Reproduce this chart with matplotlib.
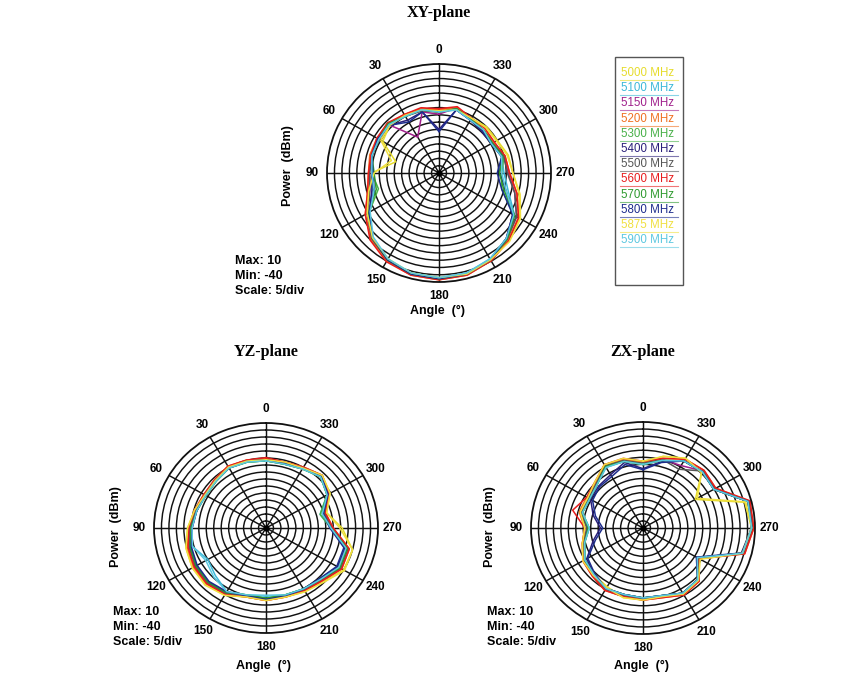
import numpy as np
import matplotlib
matplotlib.use("Agg")
import matplotlib.pyplot as plt

# ---------------- data ----------------
angles_deg = [0, 15, 30, 45, 60, 75, 90, 105, 120, 135, 150, 165,
              180, 195, 210, 225, 240, 255, 270, 285, 300, 315, 330, 345]

freqs = ["5000 MHz", "5100 MHz", "5150 MHz", "5200 MHz", "5300 MHz", "5400 MHz",
         "5500 MHz", "5600 MHz", "5700 MHz", "5800 MHz", "5875 MHz", "5900 MHz"]
colors = ["#e6dc2c", "#3cb8d8", "#a0208c", "#f07020", "#48b048", "#2a1f7a",
          "#555555", "#e81c1c", "#2e9a2e", "#1c2c8c", "#f0e040", "#5cc8e0"]

xy_5000 = [-11, -10, -9, -9, -11, -20, -10, -7, -3, 2, 5.5, 8, 8.5, 8, 6, 4, 1.5, -3, -7, -8, -10, -10, -11, -10]
xy_5100 = [-12, -10, -10, -8, -9, -9, -10, -9, -4, 2, 6, 7.5, 8, 7.5, 5.5, 2.5, -1, -8, -11, -11, -13, -12, -12, -10]
xy_5150 = [-13, -11, -21, -9, -9, -9, -9, -8, -3, 2.5, 6, 8, 8.5, 8, 6, 3, 0, -5, -9, -10, -12, -12, -12, -9]
xy_5200 = [-11, -9.5, -9, -8, -8, -8, -8.5, -7, -2, 3, 6.5, 8.5, 9, 8.5, 6.5, 3.5, 1, -4, -8.5, -9.5, -12, -11, -11, -9]
xy_5300 = [-12, -10, -10, -7.5, -8.5, -9, -10, -12, -4, 2, 6, 8, 8.5, 8, 6, 2.5, -1.5, -11, -12, -10, -12.5, -12, -11.5, -9.5]
xy_5400 = [-20, -11, -12, -9, -8.5, -9, -10, -9, -4, 2, 6, 8, 8.5, 8, 6, 2.5, -2, -9, -13, -11, -13, -13, -12, -10]
xy_5500 = [-12, -10.5, -10, -8.5, -9, -9, -9, -8, -3, 2.5, 6, 8, 8.5, 8, 6, 3, 0, -5, -9.5, -10, -12.5, -12, -11.5, -9.5]
xy_5600 = [-10.5, -9, -9, -7.5, -8, -8.5, -8.5, -7, -2, 3.5, 7, 8.5, 9, 8.5, 6.5, 4, 1, -4, -8.5, -9.5, -11.5, -11, -11, -8.5]
xy_5700 = [-12, -10, -10, -8, -9, -9, -11, -11, -3.5, 2, 6, 8, 8.5, 8, 6, 3, -1, -10, -13, -10.5, -12.5, -12, -11.5, -9.5]
xy_5800 = [-21, -11, -13, -9, -8.5, -9, -10.5, -10, -4, 2, 6, 8, 8.5, 8, 6, 2.5, -2, -11, -14, -11, -13, -12.5, -12, -10]
xy_5875 = [-11.5, -10, -9.5, -9, -10, -18, -11, -7.5, -3, 2, 5.5, 7.5, 8, 8, 6, 4.5, 2, -2.5, -7, -8.5, -10.5, -10.5, -11, -10]
xy_5900 = [-12, -10, -10, -8.5, -9, -9, -10, -10, -4.5, 1.5, 5.5, 7.5, 8, 7.5, 5.5, 2.5, -1.5, -9, -12, -11, -13, -12, -12, -10]

yz_5000 = [-7, -7, -6.5, -8, -8.5, -7, -5, -3, -2, -2, -3, -6, -5.5, -6, -5, -4, 0, 0, -6, -12, -7, -4.5, -7, -7.5]
yz_5100 = [-8, -7.5, -7, -8.5, -9, -8, -6.5, -6, -10, -8, -5, -7, -7.5, -7, -6.5, -5.5, -2, -3, -11, -15, -8.5, -5.5, -7.5, -8.5]
yz_5150 = [-7.5, -7, -6.5, -8, -8.5, -7.5, -6, -4.5, -4, -3.5, -4.5, -6.5, -6, -6.5, -6, -5.5, -2.5, -3, -11, -13, -8, -5, -7, -8]
yz_5200 = [-7, -6.5, -6, -7.5, -8, -7, -5.5, -3.5, -2.5, -2.5, -3.5, -6, -5.5, -6, -5.5, -4.5, -1, -1.5, -10, -12.5, -7.5, -4.5, -6.5, -7.5]
yz_5300 = [-8, -7.5, -7, -8.5, -9, -8, -6.5, -5, -4, -3.5, -4.5, -7, -6.5, -7, -6.5, -5.5, -2, -2.5, -11, -15, -8.5, -5.5, -7.5, -8.5]
yz_5400 = [-7.5, -7, -6.5, -8, -8.5, -8, -7, -5, -4, -3.5, -4.5, -6.5, -6, -6.5, -6, -6, -3, -3.5, -11, -13.5, -8, -5, -7, -8]
yz_5500 = [-7.5, -7, -6.5, -8, -8.5, -7.5, -6, -4.5, -3.5, -3, -4, -6.5, -6, -6.5, -6, -5, -1.5, -2, -10.5, -13, -8, -5, -7, -8]
yz_5600 = [-6.5, -6.5, -6, -7.5, -8, -7, -5.5, -4, -3, -2.5, -3.5, -6, -5.5, -6, -5.5, -4.5, -1, -1.5, -10, -12.5, -7.5, -4.5, -6.5, -7.5]
yz_5700 = [-8, -7.5, -7, -8.5, -9, -8, -6.5, -5, -4, -3.5, -4.5, -7, -6.5, -7, -6.5, -5.5, -2, -2.5, -11, -14, -8.5, -5.5, -7.5, -8.5]
yz_5800 = [-7.5, -7, -7, -8, -8.5, -8, -7, -5.5, -4.5, -4, -5, -6.5, -6, -6.5, -6.5, -6, -3.5, -4, -11.5, -13.5, -8, -5, -7, -8]
yz_5875 = [-7.5, -7, -6.5, -8, -8.5, -7, -5, -3, -2, -1.5, -3, -6, -5.5, -6, -5, -3.5, 0.5, 0, -7, -12, -7, -4.5, -7, -7.5]
yz_5900 = [-8, -7.5, -7, -8.5, -9, -8, -7, -6, -9, -7, -5, -7, -8, -7, -6.5, -5.5, -2.5, -3, -11, -14, -8.5, -5.5, -7.5, -8.5]

zx_5000 = [-9, -6.5, -6, -10, -12, -11, -14, -12, -9, -9, -8, -6, -6, -6.5, -4, -5, -11, 5.5, 8.5, 7, -13, -3, -2, -5]
zx_5100 = [-10, -7.5, -7, -11, -12.5, -12, -16, -13, -10, -9, -7, -7.5, -7, -7, -4.5, -5.5, -12, 6, 8.5, 8.5, -3.5, -2.5, -3.5, -7]
zx_5150 = [-9.5, -7, -6.5, -10.5, -12, -11.5, -15, -12.5, -9.5, -8.5, -6.5, -7, -6.5, -6.5, -4, -5, -11.5, 6.5, 9, 8.5, -3, -2, -6, -6.5]
zx_5200 = [-9, -6.5, -5.5, -10, -11, -10.5, -14, -12, -9, -8, -6, -6.5, -6, -6, -3.5, -4.5, -11, 7, 9.5, 9, -2.5, -1.5, -2.5, -6]
zx_5300 = [-10, -7.5, -6.5, -11, -12.5, -12, -16, -13, -10, -9, -7, -7.5, -7, -7, -4.5, -5.5, -12, 6, 8.5, 8.5, -3.5, -2.5, -3.5, -7]
zx_5400 = [-12, -8, -11, -12, -13, -17, -21, -17, -11, -9, -7, -7.5, -7, -7, -4.5, -5.5, -12, 6, 8.5, 8.5, -3.5, -2.5, -3.5, -7.5]
zx_5500 = [-9.5, -7, -6, -10.5, -12, -11.5, -15, -12.5, -9.5, -8.5, -6.5, -7, -6.5, -6.5, -4, -5, -11.5, 6.5, 9, 9, -3, -2, -8, -6.5]
zx_5600 = [-8.5, -6, -5.5, -9.5, -11, -7.5, -14, -12, -9, -8, -6, -6.5, -6, -6, -3.5, -4.5, -11, 7, 9.5, 9.5, -2.5, -1.5, -2.5, -6]
zx_5700 = [-10, -7.5, -6.5, -11, -12.5, -12, -15.5, -13, -10, -9, -7, -7.5, -7, -7, -4.5, -5.5, -12, 6, 8.5, 8.5, -3.5, -2.5, -3.5, -7]
zx_5800 = [-12.5, -9, -12, -12.5, -14, -18, -22, -18, -11.5, -9.5, -7, -7.5, -7, -7, -4.5, -5.5, -12.5, 5.5, 8.5, 8.5, -3.5, -2.5, -3.5, -8]
zx_5875 = [-8.5, -6, -5.5, -9.5, -11.5, -11, -14, -12, -9, -8.5, -7.5, -6, -6, -6.5, -4, -5, -10.5, 6, 8.5, 7.5, -12, -3, -2, -5]
zx_5900 = [-10, -7.5, -7, -11, -12.5, -12, -16, -13, -10, -9, -7, -7.5, -7, -7, -4.5, -5.5, -12, 6, 8.5, 8.5, -3.5, -2.5, -3.5, -7]

xy_series = [xy_5000, xy_5100, xy_5150, xy_5200, xy_5300, xy_5400,
             xy_5500, xy_5600, xy_5700, xy_5800, xy_5875, xy_5900]
yz_series = [yz_5000, yz_5100, yz_5150, yz_5200, yz_5300, yz_5400,
             yz_5500, yz_5600, yz_5700, yz_5800, yz_5875, yz_5900]
zx_series = [zx_5000, zx_5100, zx_5150, zx_5200, zx_5300, zx_5400,
             zx_5500, zx_5600, zx_5700, zx_5800, zx_5875, zx_5900]

r_max, r_min, r_step = 10, -40, 5
n_rings = 15
tick_angles = list(range(0, 360, 30))
tick_labels = [str(a) for a in tick_angles]

# ---------------- figure ----------------
W, H = 848, 678
fig = plt.figure(figsize=(W / 100, H / 100), dpi=100)
fig.patch.set_facecolor("white")

SANS = ["Liberation Sans", "DejaVu Sans"]
SERIF = ["Liberation Serif", "DejaVu Serif"]


def px_box(cx, cy, rx, ry):
    return [(cx - rx) / W, (H - cy - ry) / H, 2 * rx / W, 2 * ry / H]


def polar_panel(cx, cy, rx, ry, series, title, title_y):
    ax = fig.add_axes(px_box(cx, cy, rx, ry), projection="polar")
    ax.set_aspect("auto")
    ax.set_theta_zero_location("N")
    ax.set_theta_direction(1)
    ax.set_ylim(r_min, r_max)
    ax.set_rgrids(np.linspace(r_min, r_max, n_rings + 1)[1:-1], labels=[])
    ax.set_thetagrids(tick_angles, labels=[""] * len(tick_angles))
    ax.grid(True, color="#111111", lw=1.05)
    ax.spines["polar"].set_color("#111111")
    ax.spines["polar"].set_linewidth(1.3)
    ax.tick_params(length=0)
    th = np.deg2rad(angles_deg + [360])
    for vals, c in zip(series, colors):
        ax.plot(th, list(vals) + [vals[0]], color=c, lw=1.1)
    ax.plot([0], [r_min], "o", color="black", ms=3.5, clip_on=False)
    lab_r = r_min + (r_max - r_min) * 1.13
    for a, t in zip(tick_angles, tick_labels):
        ax.text(np.deg2rad(a), lab_r, t, ha="center", va="center",
                fontsize=8.5, fontweight="bold", family=SANS, clip_on=False)
    fig.text(cx / W, 1 - title_y / H, title, ha="center", va="center",
             fontsize=11.5, fontweight="bold", family=SERIF)
    return ax


def side_texts(px_power, cy, angle_x, angle_y, mx, my):
    fig.text(px_power / W, 1 - cy / H, "Power  (dBm)", rotation=90,
             ha="center", va="center", fontsize=9, fontweight="bold", family=SANS)
    fig.text(angle_x / W, 1 - angle_y / H, "Angle  (°)", ha="center", va="center",
             fontsize=9, fontweight="bold", family=SANS)
    for i, s in enumerate([f"Max: {r_max}", f"Min: {r_min}", f"Scale: {r_step}/div"]):
        fig.text(mx / W, 1 - (my + 15.2 * i) / H, s, ha="left", va="center",
                 fontsize=9, fontweight="bold", family=SANS)


polar_panel(439, 173, 112, 109, xy_series, "XY-plane", 13)
side_texts(288, 166, 438, 311, 235, 261)
polar_panel(266, 528, 112, 105, yz_series, "YZ-plane", 352)
side_texts(116, 527, 264, 666, 113, 612)
polar_panel(643, 528, 112, 106, zx_series, "ZX-plane", 352)
side_texts(490, 527, 641, 666, 487, 612)

# legend box
lx0, ly0, lx1, ly1 = 615, 57, 683, 285
fig.patches.append(plt.Rectangle((lx0 / W, 1 - ly1 / H), (lx1 - lx0) / W, (ly1 - ly0) / H,
                                 transform=fig.transFigure, fill=False,
                                 edgecolor="#555555", lw=1.0))
for i, (f, c) in enumerate(zip(freqs, colors)):
    yy = 73 + 15.2 * i
    fig.add_artist(plt.Line2D([620 / W, 678 / W], [1 - (yy + 7) / H] * 2,
                              color=c, lw=0.8, alpha=0.6, transform=fig.transFigure))
    fig.text(621 / W, 1 - yy / H, f, ha="left", va="center", fontsize=8.3,
             color=c, family=SANS)

fig.savefig("out.png", dpi=100, facecolor="white")
